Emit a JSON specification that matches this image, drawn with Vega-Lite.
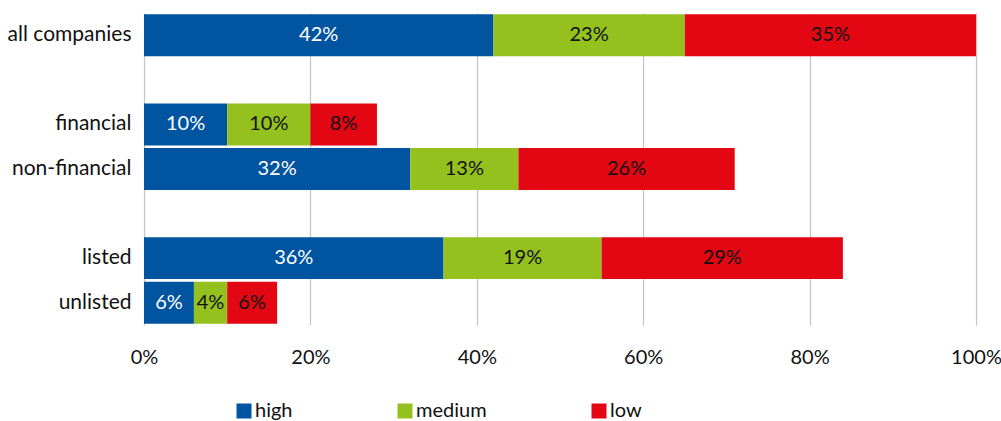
{
  "$schema": "https://vega.github.io/schema/vega-lite/v6.json",
  "width": 832,
  "height": 312,
  "autosize": "none",
  "padding": {"left": 144, "top": 13, "right": 25, "bottom": 96},
  "background": "white",
  "config": {
    "font": "Lato",
    "view": {"stroke": null},
    "axis": {"labelFont": "Lato", "labelColor": "#111111", "labelFontSize": 20}
  },
  "data": {
    "values": [
      {"category": "all companies", "level": "high", "value": 0.42},
      {"category": "all companies", "level": "medium", "value": 0.23},
      {"category": "all companies", "level": "low", "value": 0.35},
      {"category": "financial", "level": "high", "value": 0.10},
      {"category": "financial", "level": "medium", "value": 0.10},
      {"category": "financial", "level": "low", "value": 0.08},
      {"category": "non-financial", "level": "high", "value": 0.32},
      {"category": "non-financial", "level": "medium", "value": 0.13},
      {"category": "non-financial", "level": "low", "value": 0.26},
      {"category": "listed", "level": "high", "value": 0.36},
      {"category": "listed", "level": "medium", "value": 0.19},
      {"category": "listed", "level": "low", "value": 0.29},
      {"category": "unlisted", "level": "high", "value": 0.06},
      {"category": "unlisted", "level": "medium", "value": 0.04},
      {"category": "unlisted", "level": "low", "value": 0.06}
    ]
  },
  "transform": [
    {"stack": "value", "groupby": ["category"], "as": ["x0", "x1"]}
  ],
  "encoding": {
    "y": {
      "field": "category",
      "type": "nominal",
      "scale": {
        "domain": ["all companies", " ", "financial", "non-financial", "  ", "listed", "unlisted"],
        "paddingInner": 0.06,
        "paddingOuter": 0.03
      },
      "axis": {"title": null, "domain": false, "ticks": false, "labelPadding": 13, "labelFontSize": 21}
    },
    "x": {
      "field": "x0",
      "type": "quantitative",
      "scale": {"domain": [0, 1], "nice": false},
      "axis": {
        "title": null,
        "format": ".0%",
        "values": [0, 0.2, 0.4, 0.6, 0.8, 1],
        "domain": false,
        "ticks": false,
        "grid": true,
        "gridColor": "#c4c4c4",
        "gridWidth": 1.2,
        "labelFlush": false,
        "labelPadding": 22
      }
    }
  },
  "layer": [
    {
      "mark": {"type": "bar"},
      "encoding": {
        "x2": {"field": "x1"},
        "color": {
          "field": "level",
          "type": "nominal",
          "scale": {
            "domain": ["high", "medium", "low"],
            "range": ["#0054a0", "#95c11f", "#e30613"]
          },
          "legend": {
            "orient": "none",
            "legendX": 90,
            "legendY": 388,
            "direction": "horizontal",
            "title": null,
            "symbolType": "square",
            "symbolSize": 225,
            "symbolStrokeWidth": 0,
            "symbolOpacity": 1,
            "labelFontSize": 20,
            "labelFont": "Lato",
            "labelColor": "#111111",
            "labelOffset": 1,
            "columnPadding": 102,
            "padding": 0,
            "offset": 0
          }
        }
      }
    },
    {
      "mark": {
        "type": "text",
        "fontSize": 20,
        "font": "Lato",
        "dx": {"expr": "(scale('x', datum.x1) - scale('x', datum.x0)) / 2"}
      },
      "encoding": {
        "text": {"field": "value", "format": ".0%"},
        "color": {
          "condition": {"test": "datum.level === 'high'", "value": "white"},
          "value": "#111111"
        }
      }
    }
  ]
}
